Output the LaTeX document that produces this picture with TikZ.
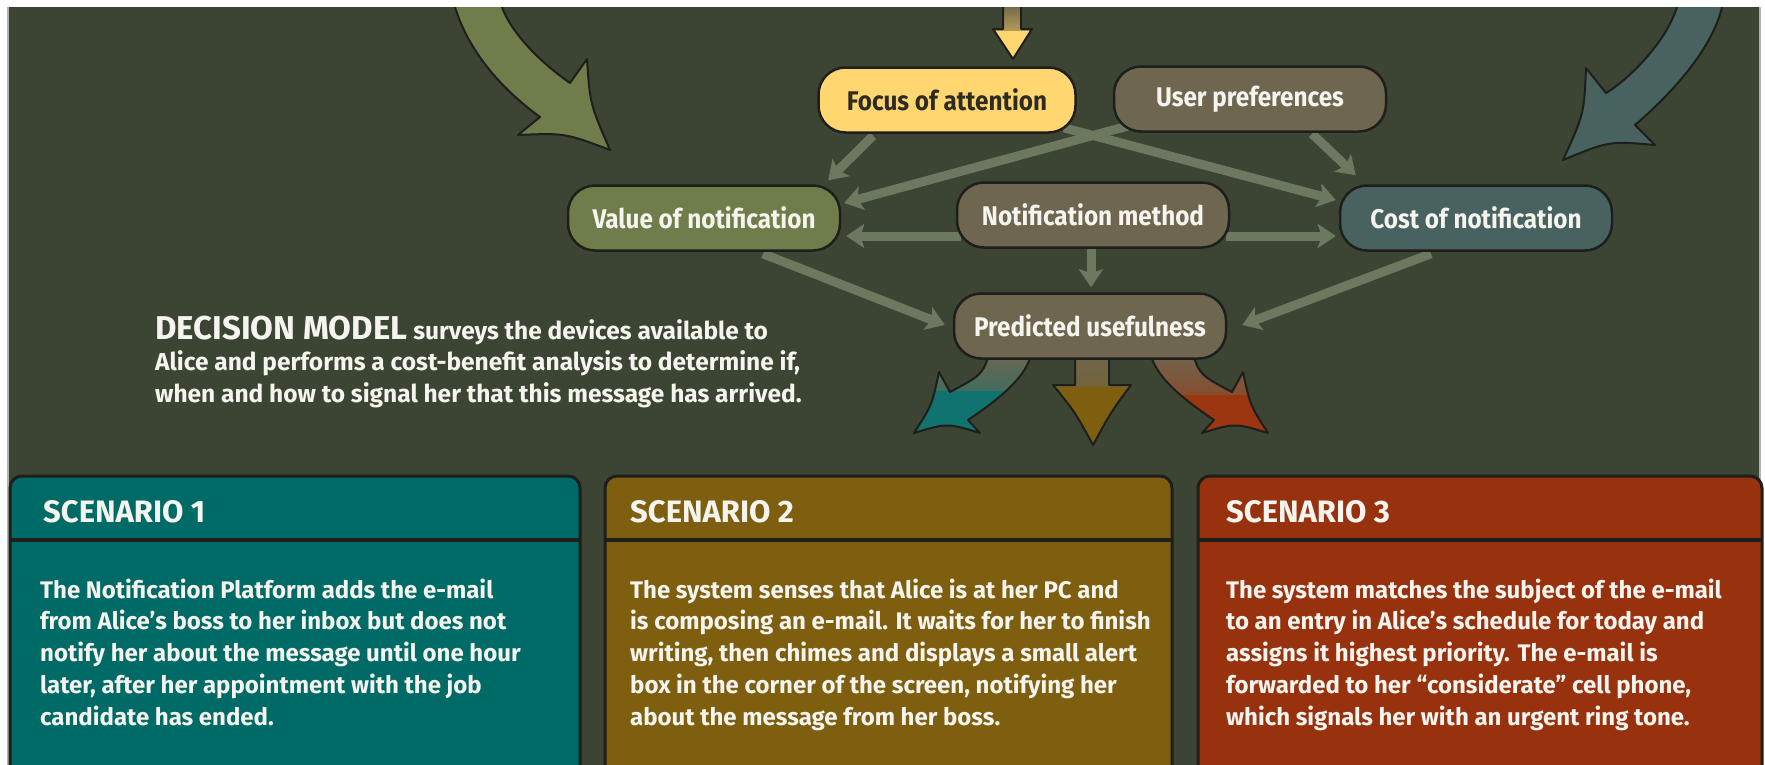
\documentclass[tikz,border=0pt]{standalone}
\usepackage{fontspec}
\setmainfont{Fira Sans}
\newfontfamily\narrowfont{Fira Sans}[FakeStretch=0.9]
\usepackage{tikz}
\usetikzlibrary{arrows.meta,positioning,calc}
\usepackage{xcolor}

\definecolor{panelbg}{HTML}{3C4533}
\definecolor{inkdark}{HTML}{1E1E1C}
\definecolor{linkgreen}{HTML}{6C7860}
\definecolor{valuegreen}{HTML}{6F7D4B}
\definecolor{nodebrown}{HTML}{6F6650}
\definecolor{costteal}{HTML}{47625F}
\definecolor{focusyellow}{HTML}{FFD670}
\definecolor{focusink}{HTML}{2E2C22}
\definecolor{sceneA}{HTML}{006B66}
\definecolor{sceneB}{HTML}{7E5F10}
\definecolor{sceneC}{HTML}{98310D}
\definecolor{arrowA}{HTML}{11736F}
\definecolor{arrowC}{HTML}{9C3611}
\definecolor{inkwhite}{HTML}{F6F4EE}

\pgfdeclarelayer{back}
\pgfdeclarelayer{links}
\pgfsetlayers{back,links,main}

\begin{document}
\begin{tikzpicture}[x=1pt, y=-1pt,
    factor/.style={draw=inkdark, line width=2.5pt, rounded corners=27pt,
        minimum width=272pt, minimum height=65pt, inner sep=0pt, text=inkwhite,
        font=\narrowfont\bfseries\fontsize{27}{30}\selectfont},
    link/.style={draw=linkgreen, line width=9pt,
        -{Stealth[length=18pt, width=24pt, inset=4pt]}},
    fatarrow/.style={draw=inkdark, line width=2pt, line join=round},
    scenebox/.style={draw=inkdark, line width=3pt, rounded corners=12pt},
    headtext/.style={anchor=base west, inner sep=0pt, text=inkwhite,
        font=\bfseries\fontsize{31}{36}\selectfont},
    bodytext/.style={anchor=base west, align=left, inner sep=0pt, text=inkwhite,
        font=\bfseries\fontsize{24}{31.7}\selectfont}]

    \useasboundingbox (0,0) rectangle (1765,764);

    % Fond du panneau
    \begin{pgfonlayer}{back}
        \fill[white] (0,0) rectangle (1765,764);
        \fill[panelbg] (8,7) rectangle (1760,790);
        \draw[gray!60, line width=1.5pt] (8,7) -- (8,790) (1760,7) -- (1760,790);
    \end{pgfonlayer}

    % Grandes flèches d'entrée
    \begin{scope}
        \clip (8,7) rectangle (1760,790);
        \filldraw[fatarrow, fill=valuegreen] (451,-5) -- (455,7)
            .. controls (468,50) and (500,88) .. (540,117) -- (518,135)
            .. controls (565,133) .. (610,150) .. controls (590,104) .. (587,59)
            -- (570,83) .. controls (530,55) and (508,25) .. (502,7) -- (498,-5) -- cycle;
        \filldraw[fatarrow, fill=costteal] (1726,-5) -- (1722,7)
            .. controls (1712,50) and (1670,95) .. (1635,125) -- (1655,145)
            .. controls (1609,141) .. (1563,160) .. controls (1584,114) .. (1586,68)
            -- (1606,93) .. controls (1625,82) and (1665,45) .. (1677,7) -- (1679,-5) -- cycle;
        \path[fill=focusyellow, path picture={
                \shade[top color=nodebrown!80!black, bottom color=focusyellow] (990,7) rectangle (1035,30);}]
            (1003,-5) -- (1003,29) -- (993,29) -- (1013,59) -- (1032,29) -- (1021,29) -- (1021,-5) -- cycle;
        \draw[fatarrow] (1003,-5) -- (1003,29) -- (993,29) -- (1013,59) -- (1032,29) -- (1021,29) -- (1021,-5);
    \end{scope}

    % Facteurs du modèle
    \node[factor, minimum width=257pt, fill=focusyellow, text=focusink] (focus) at (947,100) {Focus of attention};
    \node[factor, fill=nodebrown] (prefs) at (1250,99) {User preferences};
    \node[factor, fill=valuegreen] (value) at (704,218) {Value of notification};
    \node[factor, fill=nodebrown] (method) at (1093,215) {Notification method};
    \node[factor, fill=costteal] (cost) at (1476,218) {Cost of notification};
    \node[factor, fill=nodebrown] (useful) at (1090,326) {Predicted usefulness};

    % Liens entre facteurs
    \begin{pgfonlayer}{links}
        \draw[link] ([shift={(-74,2)}]focus.south) -- ([shift={(-13,-4)}]value.north east);
        \draw[link] ([shift={(16,-7)}]prefs.south west) -- ([shift={(3,-15)}]value.east);
        \draw[link] ([shift={(-13,-6)}]focus.south east) -- ([shift={(-3,-18)}]cost.west);
        \draw[link] ([shift={(62,1)}]prefs.south) -- ([shift={(17,-9)}]cost.north west);
        \draw[link] ([shift={(5,21)}]method.west) -- ([shift={(5,18)}]value.east);
        \draw[link] ([shift={(-4,21)}]method.east) -- ([shift={(-3,18)}]cost.west);
        \draw[link] ([shift={(-2,0)}]method.south) -- ([shift={(1,-5)}]useful.north);
        \draw[link] ([shift={(59,2)}]value.south) -- ([shift={(-8,-1)}]useful.west);
        \draw[link] ([shift={(-45,2)}]cost.south) -- ([shift={(15,-1)}]useful.east);

        % Trois sorties vers les scénarios
        \filldraw[fatarrow, fill=arrowA, path picture={
                \shade[top color=nodebrown, bottom color=arrowA] (900,354) rectangle (1050,390);}]
            (990,352) .. controls (982,375) .. (950,392) -- (939,372)
            .. controls (932,405) .. (914,433) .. controls (947,423) .. (980,433)
            -- (968,420) .. controls (1005,395) and (1027,375) .. (1032,352) -- cycle;
        \filldraw[fatarrow, fill=sceneB, path picture={
                \shade[top color=nodebrown, bottom color=sceneB] (1040,354) rectangle (1140,386);}]
            (1075,352) -- (1075,385) -- (1053,385) .. controls (1075,412) .. (1093,445)
            .. controls (1111,412) .. (1131,385) -- (1109,385) -- (1109,352) -- cycle;
        \filldraw[fatarrow, fill=arrowC, path picture={
                \shade[top color=nodebrown, bottom color=arrowC] (1130,354) rectangle (1280,394);}]
            (1192,352) .. controls (1200,375) .. (1232,392) -- (1243,372)
            .. controls (1250,405) .. (1268,433) .. controls (1235,423) .. (1202,433)
            -- (1214,420) .. controls (1177,395) and (1155,375) .. (1150,352) -- cycle;
    \end{pgfonlayer}

    % Texte du modèle de décision
    \node[anchor=base west, align=left, inner sep=0pt, text=inkwhite,
        font=\bfseries\fontsize{24.5}{31.5}\selectfont] (model) at (155,402)
        {{\fontsize{33}{31.5}\selectfont DECISION MODEL} surveys the devices available to\\
         Alice and performs a cost-benefit analysis to determine if,\\
         when and how to signal her that this message has arrived.};

    % Cadres des scénarios
    \foreach \x/\w/\col/\n/\tx in {10/570/sceneA/1/43, 605/567/sceneB/2/630, 1198/564/sceneC/3/1226} {
        \draw[scenebox, fill=\col] (\x,800) |- (\x+\w,476) -- (\x+\w,800) -- cycle;
        \draw[inkdark, line width=4pt] (\x,540) -- (\x+\w,540);
        \node[headtext] (head\n) at (\tx,522) {SCENARIO \n};
    }

    \node[bodytext] (body1) at (40,725) {The Notification Platform adds the e-mail\\
        from Alice’s boss to her inbox but does not\\
        notify her about the message until one hour\\
        later, after her appointment with the job\\
        candidate has ended.};
    \node[bodytext] (body2) at (630,725) {The system senses that Alice is at her PC and\\
        is composing an e-mail. It waits for her to finish\\
        writing, then chimes and displays a small alert\\
        box in the corner of the screen, notifying her\\
        about the message from her boss.};
    \node[bodytext] (body3) at (1226,725) {The system matches the subject of the e-mail\\
        to an entry in Alice’s schedule for today and\\
        assigns it highest priority. The e-mail is\\
        forwarded to her “considerate” cell phone,\\
        which signals her with an urgent ring tone.};
\end{tikzpicture}
\end{document}
